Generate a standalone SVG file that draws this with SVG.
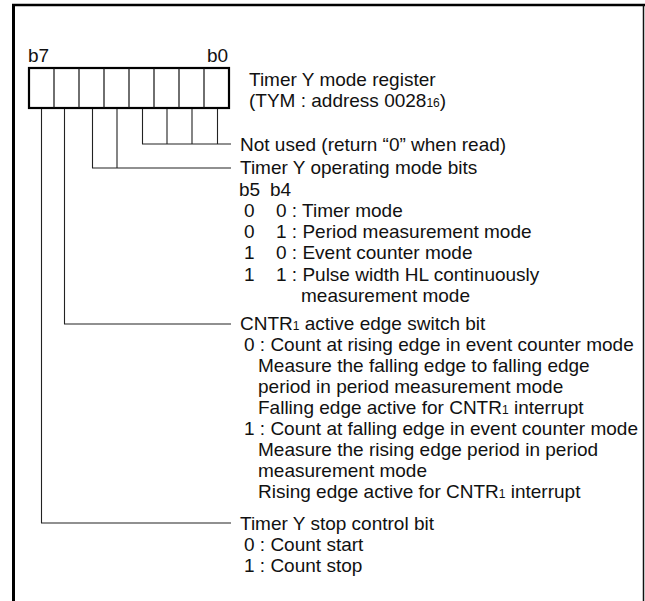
<svg xmlns="http://www.w3.org/2000/svg" width="645" height="601" viewBox="0 0 645 601">
<style>
text{font-family:"Liberation Sans",Arial,sans-serif;font-size:19px;fill:#111}
.sub{font-size:12px}
.ln{stroke:#222;stroke-width:1.1;fill:none}
.cell{stroke:#111;stroke-width:1.2;fill:none}
</style>
<rect width="645" height="601" fill="#fff"/>
<g id="frame">
<line x1="13.5" y1="601" x2="13.5" y2="4" stroke="#000" stroke-width="3"/>
<line x1="12" y1="5" x2="645" y2="5" stroke="#000" stroke-width="2.5"/>
<line x1="643.5" y1="5" x2="643.5" y2="601" stroke="#111" stroke-width="1.5"/>
</g>
<g id="register">
<text x="28" y="62">b7</text>
<text x="207" y="62">b0</text>
<rect x="29" y="68" width="200" height="40" fill="#fff" stroke="#000" stroke-width="2.2"/>
<path class="cell" d="M54,68V108M79,68V108M104,68V108M129,68V108M154,68V108M179,68V108M204,68V108"/>
<text x="249" y="86">Timer Y mode register</text>
<text x="249" y="107">(TYM : address 0028<tspan class="sub">16</tspan>)</text>
</g>
<g id="connectors">
<path class="ln" d="M41.5,109V523H231"/>
<path class="ln" d="M64.5,109V324H231"/>
<path class="ln" d="M92.5,109V168H231M117,109V168"/>
<path class="ln" d="M142.5,109V144H231M167,109V144M192,109V144M217.5,109V144"/>
</g>
<g id="not-used">
<text x="240" y="151">Not used (return “0” when read)</text>
</g>
<g id="mode-bits">
<text x="240" y="174">Timer Y operating mode bits</text>
<text x="239" y="196">b5</text><text x="270" y="196">b4</text>
<text x="244" y="217">0</text><text x="276" y="217">0 : Timer mode</text>
<text x="244" y="238">0</text><text x="276" y="238">1 : Period measurement mode</text>
<text x="244" y="259">1</text><text x="276" y="259">0 : Event counter mode</text>
<text x="244" y="281">1</text><text x="276" y="281">1 : Pulse width HL continuously</text>
<text x="301" y="302">measurement mode</text>
</g>
<g id="cntr-edge">
<text x="240" y="330">CNTR<tspan class="sub">1</tspan> active edge switch bit</text>
<text x="244" y="351">0 : Count at rising edge in event counter mode</text>
<text x="258" y="372">Measure the falling edge to falling edge</text>
<text x="258" y="393">period in period measurement mode</text>
<text x="258" y="414">Falling edge active for CNTR<tspan class="sub">1</tspan> interrupt</text>
<text x="244" y="435">1 : Count at falling edge in event counter mode</text>
<text x="258" y="456">Measure the rising edge period in period</text>
<text x="258" y="477">measurement mode</text>
<text x="258" y="498">Rising edge active for CNTR<tspan class="sub">1</tspan> interrupt</text>
</g>
<g id="stop-bit">
<text x="240" y="530">Timer Y stop control bit</text>
<text x="244" y="551">0 : Count start</text>
<text x="244" y="572">1 : Count stop</text>
</g>
</svg>
